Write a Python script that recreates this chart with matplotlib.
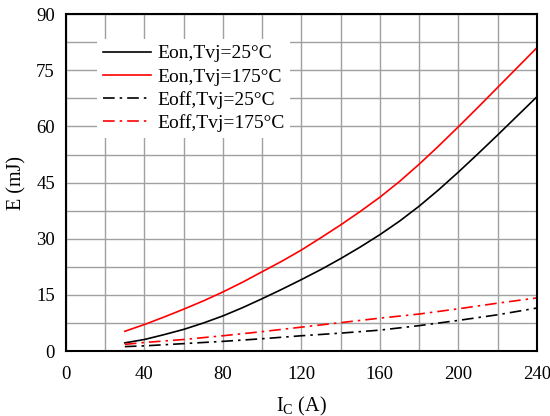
import matplotlib
matplotlib.use("Agg")
import matplotlib.pyplot as plt
import numpy as np

plt.rcParams['font.family'] = ['Liberation Serif', 'DejaVu Serif']
plt.rcParams['mathtext.fontset'] = 'custom'
plt.rcParams['mathtext.rm'] = 'Liberation Serif'
plt.rcParams['mathtext.it'] = 'Liberation Serif'

ic_on = [30, 40, 50, 60, 70, 80, 90, 100, 110, 120, 130, 140, 150, 160,
         170, 180, 190, 200, 210, 220, 230, 240]
eon_25 = [2.2, 3.1, 4.4, 5.8, 7.5, 9.4, 11.6, 14.0, 16.5, 19.1, 21.8, 24.7,
          27.8, 31.1, 34.7, 38.7, 43.1, 47.8, 52.7, 57.7, 62.8, 67.9]
eon_175 = [5.3, 7.1, 9.1, 11.2, 13.4, 15.8, 18.4, 21.2, 24.0, 27.0, 30.3,
           33.7, 37.3, 41.1, 45.3, 49.9, 54.8, 59.9, 65.1, 70.4, 75.7, 81.0]
ic_off = [30, 40, 60, 80, 100, 120, 140, 160, 180, 200, 220, 240]
eoff_25 = [1.2, 1.4, 2.0, 2.6, 3.3, 4.1, 4.8, 5.6, 6.8, 8.2, 9.7, 11.5]
eoff_175 = [1.8, 2.3, 3.1, 4.1, 5.2, 6.4, 7.6, 8.8, 9.9, 11.3, 12.8, 14.2]

labels = ['Eon,Tvj=25°C', 'Eon,Tvj=175°C', 'Eoff,Tvj=25°C', 'Eoff,Tvj=175°C']
xticks = [0, 40, 80, 120, 160, 200, 240]
yticks = [0, 15, 30, 45, 60, 75, 90]

fig = plt.figure(figsize=(5.5, 4.16), dpi=100)
ax = fig.add_axes([0.12, 0.156, 0.856, 0.81])

dashdot = (0, (7, 3, 1.5, 3))
ax.plot(ic_on, eon_25, color='black', lw=1.2, label=labels[0])
ax.plot(ic_on, eon_175, color='#ff0000', lw=1.2, label=labels[1])
ax.plot(ic_off, eoff_25, color='black', lw=1.2, ls=dashdot, label=labels[2])
ax.plot(ic_off, eoff_175, color='#ff0000', lw=1.2, ls=dashdot, label=labels[3])

ax.set_xlim(0, 240)
ax.set_ylim(0, 90)
ax.set_xticks(xticks)
ax.set_yticks(yticks)
ax.set_xticks(np.arange(0, 241, 20), minor=True)
ax.set_yticks(np.arange(0, 90.1, 7.5), minor=True)
ax.grid(True, which='both', color='#a0a0a0', lw=1.0)
ax.set_axisbelow(True)
ax.tick_params(which='both', length=0, labelsize=13.5)
ax.tick_params(axis='x', pad=11)
ax.tick_params(axis='y', pad=8)
for s in ax.spines.values():
    s.set_linewidth(1.5)

ax.set_xlabel('I$_\\mathregular{C}$ (A)', fontsize=14.5, labelpad=8)
ax.set_ylabel('E (mJ)', fontsize=14.5, labelpad=7)

leg = ax.legend(loc='upper left', bbox_to_anchor=(0.045, 0.955), fontsize=14,
                frameon=True, facecolor='white', edgecolor='none', framealpha=1,
                fancybox=False, handlelength=2.5, handletextpad=0.3,
                labelspacing=0.28, borderpad=0.3)

fig.savefig('out.png', dpi=100)
